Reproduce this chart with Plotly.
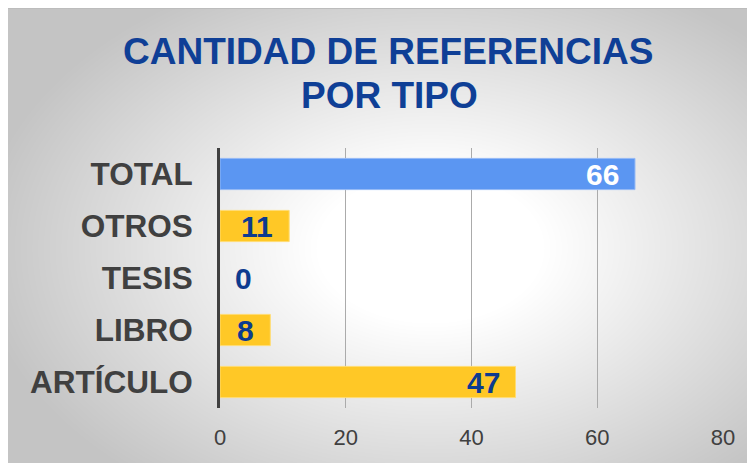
import base64
import struct
import zlib

import numpy as np
import plotly.graph_objects as go

# Datos
categorias = ["ARTÍCULO", "LIBRO", "TESIS", "OTROS", "TOTAL"]
cantidades = [47, 8, 0, 11, 66]
colores = ["#ffc826", "#ffc826", "#ffc826", "#ffc826", "#5b96f2"]
bordes = ["#ffdc73", "#ffdc73", "#ffdc73", "#ffdc73", "#94b9f6"]
color_texto = ["#0d3b8f", "#0d3b8f", "#0d3b8f", "#0d3b8f", "#ffffff"]
ticks_x = [0, 20, 40, 60, 80]
titulo = ["CANTIDAD DE REFERENCIAS", "POR TIPO"]

# la página deja un margen de 8 px arriba/izquierda
W, H = 755, 463
ML, MR, MT, MB = 212, 40, 140, 63
PW, PH = W - ML - MR, H - MT - MB
X_MAX = 80
FUENTE = "Arial, Liberation Sans"


def fondo_radial(w, h):
    """PNG en escala de grises con degradado radial (blanco al centro)"""
    yy, xx = np.mgrid[0:h, 0:w].astype(float)
    cx, cy = 422.0, 240.0
    d = np.sqrt(((xx - cx) / 380.0) ** 2 + ((yy - cy) / 250.0) ** 2)
    v = 255 - 59 * np.clip((d - 0.3) / 0.9, 0, 1)
    v[0, :] = 188
    img = v.astype(np.uint8)
    raw = b"".join(b"\x00" + img[i].tobytes() for i in range(h))

    def chunk(tag, data):
        c = struct.pack(">I", len(data)) + tag + data
        return c + struct.pack(">I", zlib.crc32(tag + data) & 0xFFFFFFFF)

    png = b"\x89PNG\r\n\x1a\n"
    png += chunk(b"IHDR", struct.pack(">IIBBBBB", w, h, 8, 0, 0, 0, 0))
    png += chunk(b"IDAT", zlib.compress(raw, 9))
    png += chunk(b"IEND", b"")
    return "data:image/png;base64," + base64.b64encode(png).decode()


def px2paper(px, py):
    return (px - ML) / PW, (H - MB - py) / PH


fig = go.Figure()

fig.add_trace(go.Bar(
    x=cantidades,
    y=categorias,
    orientation="h",
    marker=dict(color=colores,
                line=dict(color=bordes, width=[0 if v == 0 else 1 for v in cantidades])),
    hoverinfo="x+y",
))

# Etiquetas de datos ("extremo interno")
for cat, val, col in zip(categorias, cantidades, color_texto):
    fin_px = val * PW / X_MAX - 15
    ancho = 17 * len(str(val))
    if fin_px - ancho < 17:
        fig.add_annotation(x=0, y=cat, text=str(val), showarrow=False,
                           xanchor="left", xshift=13, yanchor="middle",
                           font=dict(size=30, color=col, family=FUENTE, weight="bold"))
    else:
        fig.add_annotation(x=val, y=cat, text=str(val), showarrow=False,
                           xanchor="right", xshift=-14, yanchor="middle",
                           font=dict(size=30, color=col, family=FUENTE, weight="bold"))

# Título en dos líneas (interlineado más ajustado que el de plotly)
for linea, (tx, ty) in zip(titulo, [(379.5, 43.5), (381, 87)]):
    ax, ay = px2paper(tx, ty)
    fig.add_annotation(x=ax, y=ay, xref="paper", yref="paper", text=linea,
                       showarrow=False, xanchor="center", yanchor="middle",
                       font=dict(size=37, color="#0f3f96", family=FUENTE, weight="bold"))

fig.add_layout_image(
    source=fondo_radial(W, H),
    xref="paper", yref="paper",
    x=-ML / PW, y=(H - MB) / PH,
    sizex=W / PW, sizey=H / PH,
    xanchor="left", yanchor="top",
    sizing="stretch", layer="below",
)

fig.update_layout(
    width=W, height=H,
    margin=dict(l=ML, r=MR, t=MT, b=MB),
    paper_bgcolor="white",
    plot_bgcolor="rgba(0,0,0,0)",
    bargap=0.4,
    showlegend=False,
    font=dict(family=FUENTE, color="#404040"),
)

fig.update_xaxes(
    range=[0, X_MAX], tickvals=ticks_x,
    showgrid=True, gridcolor="#ababab", gridwidth=1,
    zeroline=False, showline=False,
    ticks="outside", ticklen=10, tickcolor="rgba(0,0,0,0)",
    tickfont=dict(size=22, color="#404040"),
    fixedrange=True,
)
fig.update_yaxes(
    categoryorder="array", categoryarray=categorias,
    showline=True, linecolor="#404040", linewidth=3,
    showgrid=False,
    ticks="outside", ticklen=18, tickcolor="rgba(0,0,0,0)",
    tickfont=dict(size=31.5, color="#404040", weight="bold"),
    fixedrange=True,
)

fig.write_html("out.html")
